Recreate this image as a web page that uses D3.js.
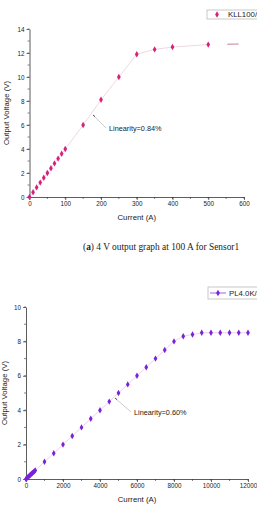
<!DOCTYPE html>
<html>
<head>
<script src="https://d3js.org/d3.v7.min.js"></script>
<style>
  body { margin: 0; background: #fff; }
  svg { display: block; }
</style>
</head>
<body>
<svg id="canvas" width="257" height="516"></svg>
<script>
  // top chart: sensor 1, KLL100/4
  currentA = [0, 10, 20, 30, 40, 50, 60, 70, 80, 90, 100, 150, 200, 250, 300, 350, 400, 500];
  voltageA = [0, 0.4, 0.8, 1.2, 1.6, 2.0, 2.4, 2.8, 3.2, 3.6, 4.0, 6.0, 8.1, 10.0, 11.9, 12.3, 12.5, 12.7];
  tailA = [[500, 12.7], [585, 12.75]];
  xTicksA = [0, 100, 200, 300, 400, 500, 600];
  yTicksA = [0, 2, 4, 6, 8, 10, 12, 14];

  // bottom chart: PL4.0K/...
  currentB = [0, 50, 100, 150, 200, 250, 300, 350, 400, 450, 500, 1000, 1500, 2000, 2500, 3000, 3500, 4000, 4500, 5000,
    5500, 6000, 6500, 7000, 7500, 8000, 8500, 9000, 9500, 10000, 10500, 11000, 11500, 12000];
  voltageB = [0, 0.05, 0.1, 0.15, 0.2, 0.25, 0.3, 0.35, 0.4, 0.45, 0.5, 1.0, 1.5, 2.0, 2.5, 3.0, 3.5, 4.0, 4.5, 5.0,
    5.5, 6.0, 6.5, 7.0, 7.5, 8.0, 8.3, 8.4, 8.5, 8.5, 8.5, 8.5, 8.5, 8.5];
  xTicksB = [0, 2000, 4000, 6000, 8000, 10000, 12000];
  yTicksB = [0, 2, 4, 6, 8, 10];

  svg = d3.select('#canvas');
  font = 'Liberation Sans, Arial, sans-serif';

  function drawPanel(o) {
    x = d3.scaleLinear().domain(o.xDom).range(o.xRange);
    y = d3.scaleLinear().domain(o.yDom).range(o.yRange);
    g = svg.append('g');

    // minor ticks
    xMinor = d3.range(o.xDom[0], o.xDom[1] + 1, o.xMinor);
    yMinor = d3.range(o.yDom[0], o.yDom[1] + 0.01, o.yMinor);
    g.selectAll('.xm').data(xMinor).enter().append('line')
      .attr('x1', d => x(d)).attr('x2', d => x(d))
      .attr('y1', o.yRange[0]).attr('y2', o.yRange[0] + 2)
      .attr('stroke', '#333').attr('stroke-width', 0.6);
    g.selectAll('.ym').data(yMinor).enter().append('line')
      .attr('y1', d => y(d)).attr('y2', d => y(d))
      .attr('x1', o.xRange[0]).attr('x2', o.xRange[0] - 2)
      .attr('stroke', '#333').attr('stroke-width', 0.6);

    xAxis = g.append('g')
      .attr('transform', 'translate(0,' + o.yRange[0] + ')')
      .call(d3.axisBottom(x).tickValues(o.xTicks).tickFormat(d3.format('d'))
        .tickSize(3).tickPadding(2).tickSizeOuter(0));
    yAxis = g.append('g')
      .attr('transform', 'translate(' + o.xRange[0] + ',0)')
      .call(d3.axisLeft(y).tickValues(o.yTicks).tickFormat(d3.format('d'))
        .tickSize(3).tickPadding(2).tickSizeOuter(0));
    [xAxis, yAxis].forEach(a => {
      a.selectAll('path').attr('stroke', '#333').attr('stroke-width', 0.8);
      a.selectAll('line').attr('stroke', '#333').attr('stroke-width', 0.7);
      a.selectAll('text').attr('font-family', font).attr('font-size', 6.3).attr('fill', '#222');
    });

    // axis titles
    g.append('text')
      .attr('x', (o.xRange[0] + o.xRange[1]) / 2).attr('y', o.xTitleY)
      .attr('text-anchor', 'middle')
      .attr('font-family', font).attr('font-size', 7.8).attr('fill', '#222')
      .text('Current (A)');
    g.append('text')
      .attr('transform', 'translate(' + o.yTitleX + ',' + (o.yRange[0] + o.yRange[1]) / 2 + ') rotate(-90)')
      .attr('text-anchor', 'middle')
      .attr('font-family', font).attr('font-size', 7.8).attr('fill', '#222')
      .text('Output Voltage (V)');

    pts = o.cur.map((c, i) => [c, o.volt[i]]);
    line = d3.line().x(d => x(d[0])).y(d => y(d[1]));
    g.append('path').datum(pts)
      .attr('d', line)
      .attr('fill', 'none').attr('stroke', o.lineColor).attr('stroke-width', 0.6);
    if (o.tail) {
      g.append('path').datum(o.tail)
        .attr('d', line)
        .attr('fill', 'none').attr('stroke', o.tailColor).attr('stroke-width', 0.8)
        .attr('stroke-dasharray', '0,19,20,100');
    }

    sym = d3.symbol().type(d3.symbolDiamond).size(o.markSize);
    g.selectAll('.pt').data(pts).enter().append('path')
      .attr('transform', d => 'translate(' + x(d[0]) + ',' + y(d[1]) + ')')
      .attr('d', sym)
      .attr('fill', o.color);

    // annotation
    g.append('line')
      .attr('x1', o.ann[0]).attr('y1', o.ann[1]).attr('x2', o.ann[2]).attr('y2', o.ann[3])
      .attr('stroke', '#aaa').attr('stroke-width', 0.6);
    g.append('line')
      .attr('x1', o.ann[0]).attr('y1', o.ann[1]).attr('x2', o.ann[0] + 2).attr('y2', o.ann[1] + 1.6)
      .attr('stroke', '#555').attr('stroke-width', 1);
    g.append('text')
      .attr('x', o.ann[2] + 3).attr('y', o.ann[3] + 3)
      .attr('font-family', font).attr('font-size', 7.3).attr('fill', '#222')
      .text(o.annText);

    // legend box
    lg = g.append('g');
    lg.append('rect')
      .attr('x', o.leg[0]).attr('y', o.leg[1]).attr('width', 60).attr('height', o.leg[2])
      .attr('fill', '#fff').attr('stroke', '#bbb').attr('stroke-width', 0.8);
    lg.append('line')
      .attr('x1', o.leg[0] + 2).attr('x2', o.leg[0] + 18)
      .attr('y1', o.leg[1] + o.leg[2] / 2).attr('y2', o.leg[1] + o.leg[2] / 2)
      .attr('stroke', o.legLine).attr('stroke-width', 0.7);
    lg.append('path')
      .attr('transform', 'translate(' + (o.leg[0] + 10) + ',' + (o.leg[1] + o.leg[2] / 2) + ')')
      .attr('d', sym).attr('fill', o.color);
    lg.append('text')
      .attr('x', o.leg[0] + 21).attr('y', o.leg[1] + o.leg[2] / 2 + 2.8)
      .attr('font-family', font).attr('font-size', 7.8).attr('fill', '#222')
      .text(o.legText);
  }

  drawPanel({
    cur: currentA, volt: voltageA, tail: tailA,
    xDom: [0, 600], yDom: [0, 14], xRange: [29.5, 244], yRange: [197, 29],
    xTicks: xTicksA, yTicks: yTicksA, xMinor: 50, yMinor: 1,
    xTitleY: 220, yTitleX: 9,
    color: '#d6207c', lineColor: '#e6bcd0', tailColor: '#b0607e', markSize: 12,
    ann: [93, 115, 106, 128], annText: 'Linearity=0.84%',
    leg: [207, 10, 9], legLine: '#ffffff', legText: 'KLL100/4'
  });

  drawPanel({
    cur: currentB, volt: voltageB,
    xDom: [0, 12000], yDom: [0, 10], xRange: [26, 248], yRange: [479, 307],
    xTicks: xTicksB, yTicks: yTicksB, xMinor: 1000, yMinor: 1,
    xTitleY: 502, yTitleX: 7,
    color: '#7a22d8', lineColor: '#e4b4d0', markSize: 12,
    ann: [115, 398, 131, 412], annText: 'Linearity=0.60%',
    leg: [208, 287, 12], legLine: '#7a22d8', legText: 'PL4.0K/4'
  });

  // caption
  cap = svg.append('text')
    .attr('x', 83).attr('y', 250)
    .attr('font-family', 'Liberation Serif, Times New Roman, serif')
    .attr('font-size', 9.4).attr('fill', '#222');
  cap.append('tspan').text('(');
  cap.append('tspan').attr('font-weight', 'bold').text('a');
  cap.append('tspan').text(') 4 V output graph at 100 A for Sensor1');
</script>
</body>
</html>
